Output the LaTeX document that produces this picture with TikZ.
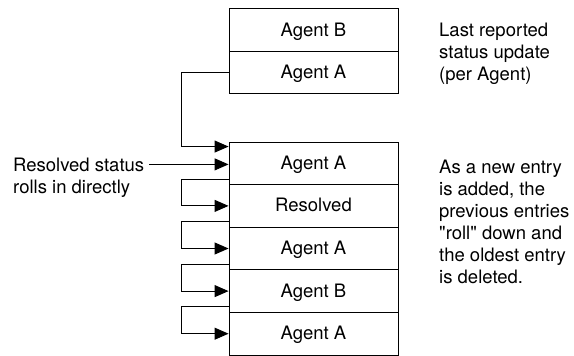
\documentclass[tikz,border=0pt]{standalone}
\usepackage{fontspec}
\setmainfont{TeX Gyre Heros}
\usetikzlibrary{arrows.meta}
\tikzstyle{cell}=[draw,line width=0.9pt,minimum width=169pt,minimum height=42.6pt,inner sep=0pt,text height=12pt,text depth=0pt]
\tikzstyle{note}=[anchor=base west,inner sep=0pt]
\tikzstyle{roll}=[line width=1pt,-{Triangle[length=14pt,width=12pt]}]

\begin{document}
\begin{tikzpicture}[x=1pt,y=-1pt,font=\fontsize{18.5}{22}\selectfont]

    \useasboundingbox (0,0) rectangle (574,356);

    % last reported update per agent
    \node[cell] (lastB) at (313.5,30) {Agent B};
    \node[cell] (lastA) at (313.5,72.6) {Agent A};

    % history that rolls down
    \foreach \name/\txt [count=\i] in {r1/Agent A, r2/Resolved, r3/Agent A, r4/Agent B, r5/Agent A}
        \node[cell] (\name) at (313.5,{120.7+42.6*\i}) {\txt};

    \foreach \i/\txt in {1/{Last reported}, 2/{status update}, 3/{(per Agent)}}
        \node[note] (last\i) at (439,{15+22*\i}) {\txt};

    \foreach \i/\txt in {1/{As a new entry}, 2/{is added, the}, 3/{previous entries}, 4/{\textquotedbl roll\textquotedbl{} down and}, 5/{the oldest entry}, 6/{is deleted.}}
        \node[note] (rolls\i) at (439,{151+22*\i}) {\txt};

    \node[note] (resolved) at (13,171) {Resolved status};
    \node[note] (direct) at (13,193) {rolls in directly};

    \draw[roll] (lastA.west) -- ++(-47,0) |- ([yshift=-5pt]r1.north west);
    \draw[roll] ([xshift=5pt]resolved.east) -- (resolved.east -| r1.west);

    \foreach \a/\b in {r1/r2, r2/r3, r3/r4, r4/r5}
        \draw[roll] ([yshift=6pt]\a.south west) -- ++(-47,0) |- (\b.west);

\end{tikzpicture}
\end{document}
